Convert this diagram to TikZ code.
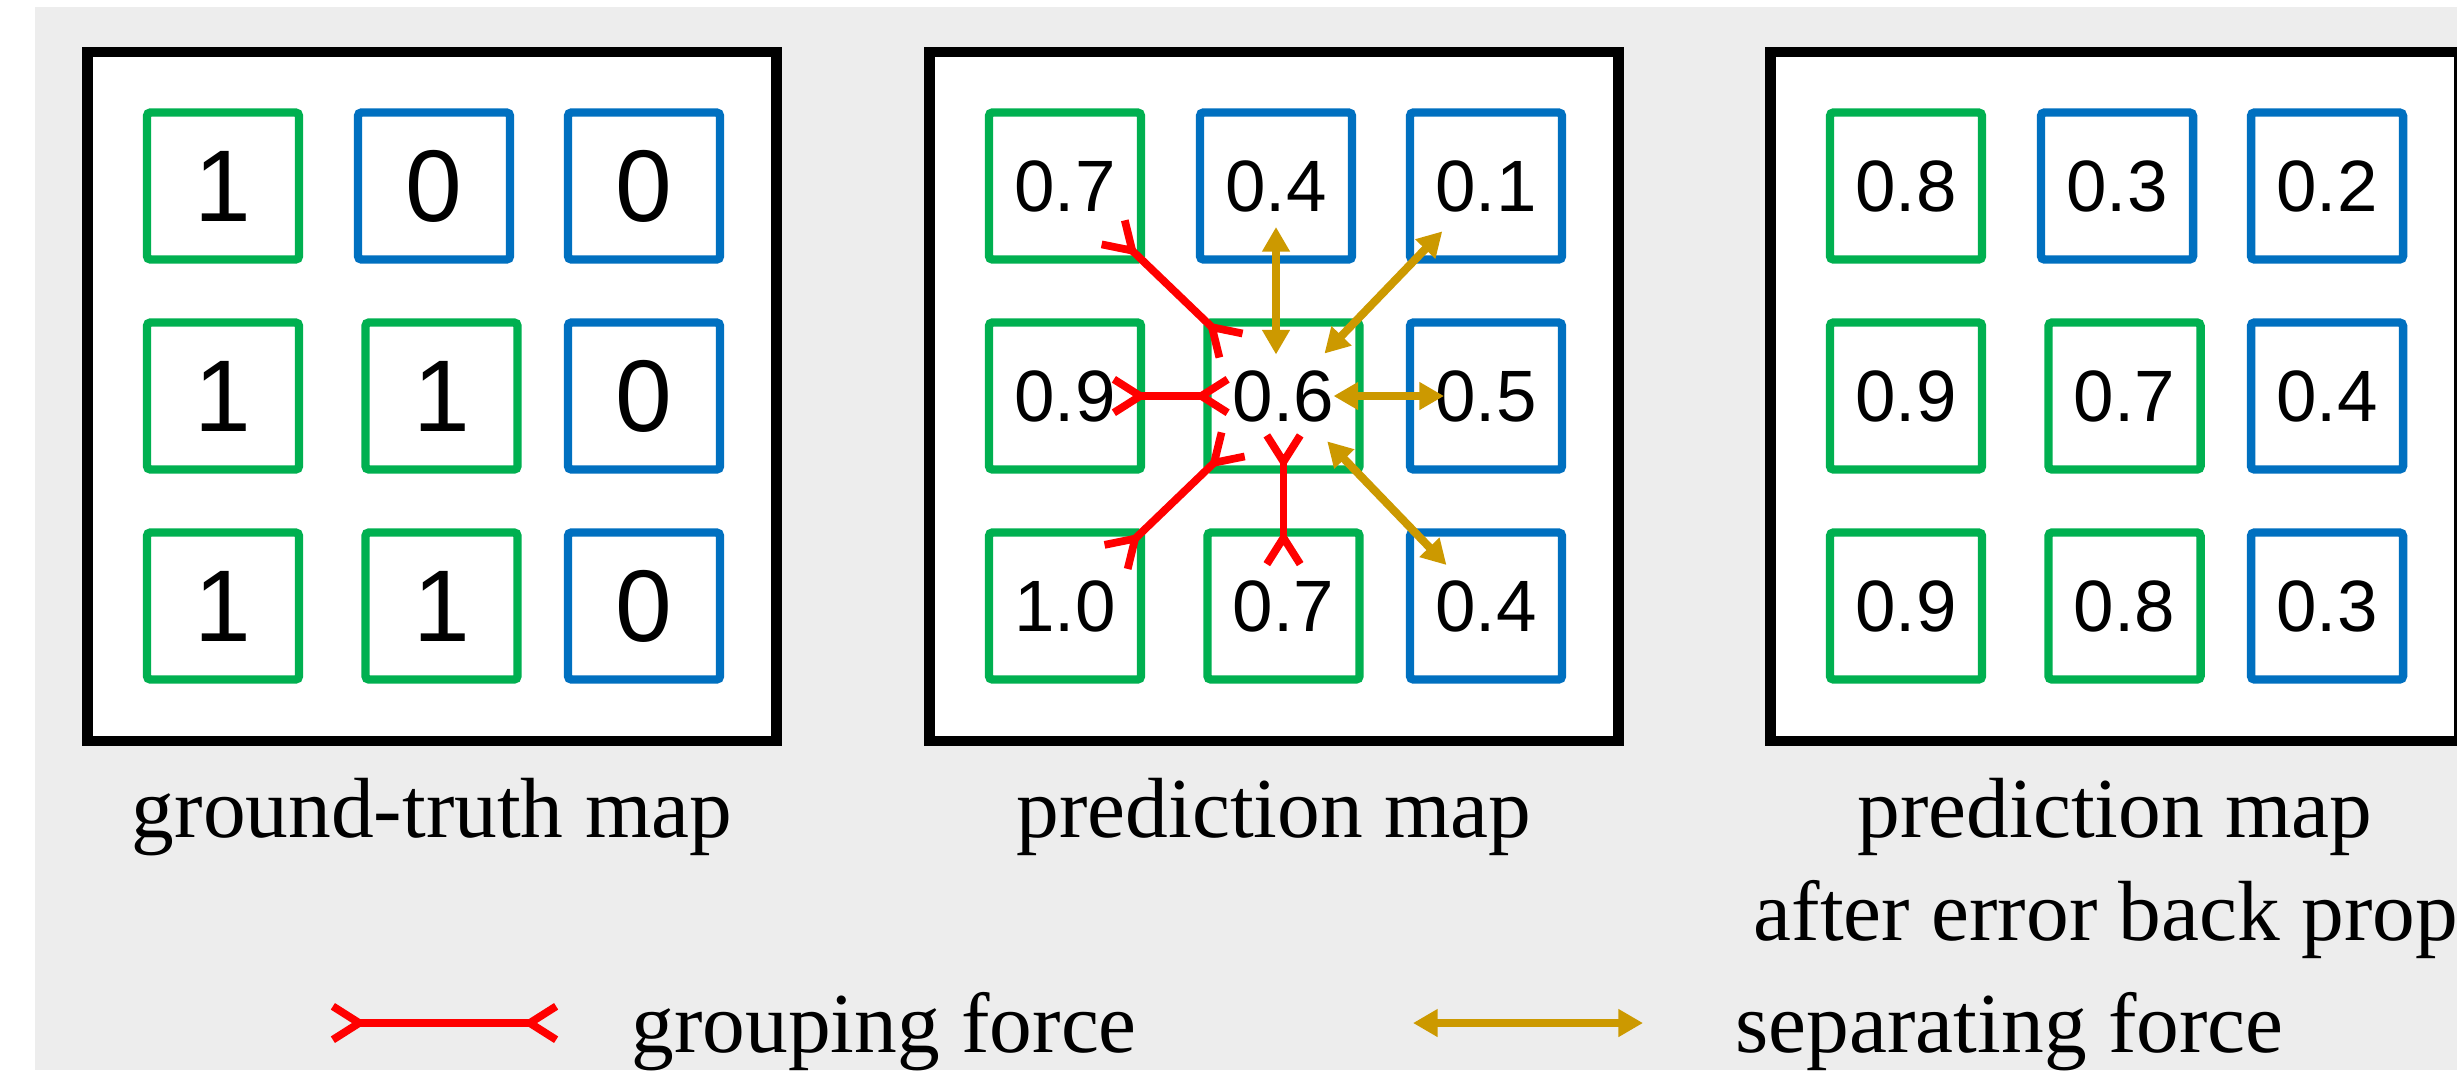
\documentclass[tikz,border=0pt]{standalone}
\usepackage{fontspec}
\setmainfont{Liberation Serif}
\newfontfamily\cellfont{Liberation Sans}
\usepackage{xcolor}
\usepackage{tikz}
\usetikzlibrary{arrows.meta,positioning,calc}
\definecolor{onegreen}{RGB}{0,176,80}
\definecolor{zeroblue}{RGB}{0,112,192}
\definecolor{pullred}{RGB}{255,0,0}
\definecolor{pushgold}{RGB}{204,153,0}
\definecolor{bggray}{RGB}{237,237,237}
\newcommand{\bigval}{\cellfont\fontsize{29pt}{34pt}\selectfont}
\newcommand{\smallval}{\cellfont\fontsize{20.7pt}{25pt}\selectfont}
\newcommand{\lblsize}{\fontsize{24.3pt}{29pt}\selectfont}

\begin{document}
\begin{tikzpicture}[every node/.style={inner sep=0pt},
  cell/.style={draw=#1, line width=2.4pt, rounded corners=1pt, minimum width=1.52cm, minimum height=1.47cm},
  mapframe/.style={draw, line width=3pt, fill=white, minimum size=6.89cm},
  lbl/.style={font=\lblsize},
  grouping/.style={draw=pullred, line width=2.2pt, line cap=round, line join=round,
    arrows={Straight Barb[reversed,length=7.5pt,width=9.5pt]-Straight Barb[reversed,length=7.5pt,width=9.5pt]}},
  separating/.style={draw=pushgold, line width=2.3pt,
    arrows={Triangle[length=7pt,width=7.5pt]-Triangle[length=7pt,width=7.5pt]}}]
\useasboundingbox (0,0) rectangle (24.57,-10.70);
\fill[bggray] (0.35,-0.07) rectangle (24.57,-10.70);

\node[mapframe] (gtframe) at (4.32,-3.965) {};
\node[mapframe] (predframe) at (12.74,-3.965) {};
\node[mapframe] (bpframe) at (21.15,-3.965) {};

\foreach \m/\cx/\fn/\r/\a/\b/\c in {
  g/4.32/\bigval/1/1/0/0, g/4.32/\bigval/2/1/1/0, g/4.32/\bigval/3/1/1/0,
  p/12.74/\smallval/1/0.7/0.4/0.1, p/12.74/\smallval/2/0.9/0.6/0.5, p/12.74/\smallval/3/1.0/0.7/0.4,
  q/21.15/\smallval/1/0.8/0.3/0.2, q/21.15/\smallval/2/0.9/0.7/0.4, q/21.15/\smallval/3/0.9/0.8/0.3} {
  \pgfmathsetmacro\y{1.86+(\r-1)*2.1}
  \ifnum\r=1 \def\kb{zeroblue}\def\xb{0.02}\else\def\kb{onegreen}\def\xb{0.095}\fi
  \node[cell=onegreen, font=\fn] (\m\r1) at (\cx-2.09,-\y) {\a};
  \node[cell=\kb, font=\fn] (\m\r2) at (\cx+\xb,-\y) {\b};
  \node[cell=zeroblue, font=\fn] (\m\r3) at (\cx+2.12,-\y) {\c};
}

\draw[grouping, shorten <=0.63cm, shorten >=0.69cm] (p11.center) -- (p22.center);
\draw[grouping, shorten <=0.45cm, shorten >=0.52cm] (p21.center) -- (p22.center);
\draw[grouping, shorten <=0.67cm, shorten >=0.66cm] (p31.center) -- (p22.center);
\draw[grouping, shorten <=0.355cm, shorten >=0.38cm] (p22.center) -- (p32.center);
\draw[separating, shorten <=0.415cm, shorten >=0.41cm] (p12.center |- p22.center) -- (p12.center);
\draw[separating, shorten <=0.59cm, shorten >=0.63cm] (p22.center) -- (p13.center);
\draw[separating, shorten <=0.50cm, shorten >=0.42cm] (p22.center) -- (p23.center);
\draw[separating, shorten <=0.63cm, shorten >=0.57cm] (p22.center) -- (p33.center);

\node[lbl, anchor=base] (gtlabel) at (4.32,-8.37) {ground-truth map};
\node[lbl, anchor=base] (predlabel) at (12.74,-8.37) {prediction map};
\node[lbl, anchor=base] (bplabel) at (21.15,-8.37) {prediction map};
\node[lbl, anchor=base west] (bplabeltwo) at (17.53,-9.40) {after error back prop};

\coordinate (groupleft) at (3.29,-10.23);
\coordinate (groupright) at (5.60,-10.23);
\draw[grouping] (groupleft) -- (groupright);
\node[lbl, anchor=base west] (grouptext) at (6.31,-10.52) {grouping force};
\coordinate (sepleft) at (14.13,-10.23);
\coordinate (sepright) at (16.43,-10.23);
\draw[separating] (sepleft) -- (sepright);
\node[lbl, anchor=base west] (septext) at (17.35,-10.52) {separating force};
\end{tikzpicture}
\end{document}
